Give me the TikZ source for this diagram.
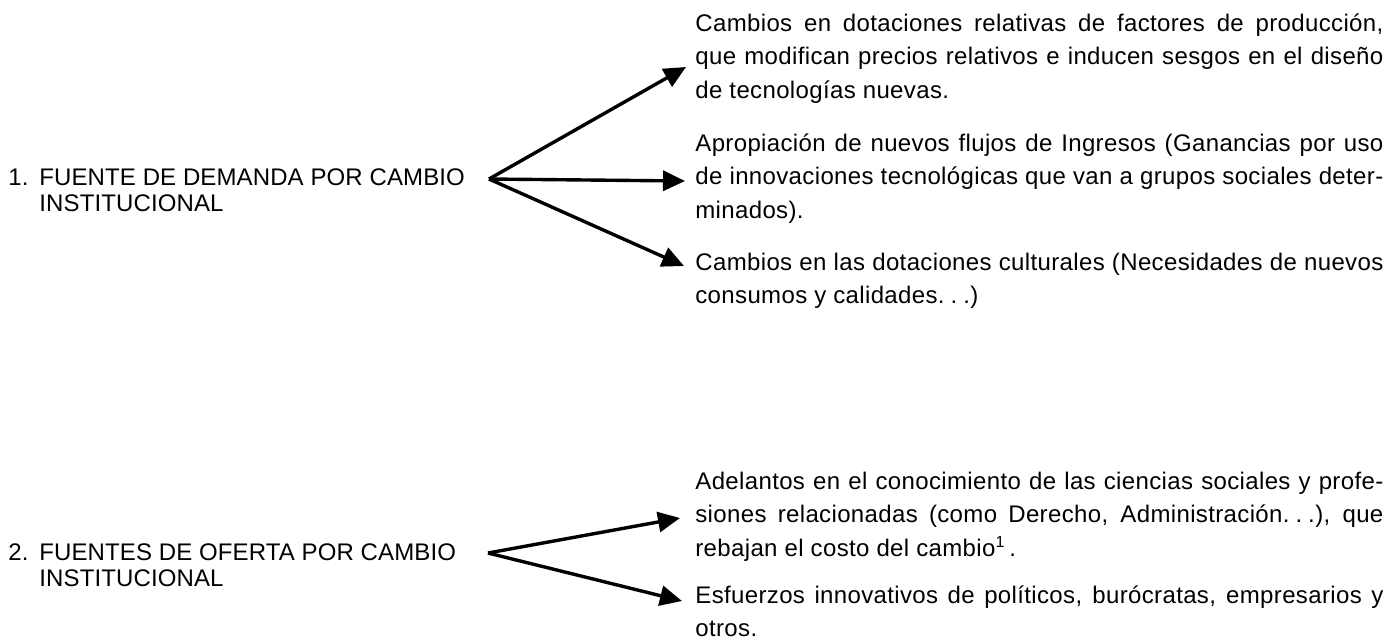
\documentclass[tikz,border=0pt]{standalone}
\usepackage{fontspec}
\setmainfont{Liberation Sans}
\newfontfamily\rfont[LetterSpace=1.5]{Liberation Sans}
\newfontfamily\lfont[LetterSpace=0.5]{Liberation Sans}
\usetikzlibrary{arrows.meta}
\newlength{\bw}
\setlength{\bw}{344pt}
\newcommand{\jl}[1]{\hbox to \bw{#1}}
\newcommand{\lastl}[1]{\hbox{#1}}
\newcommand{\spdots}{.\hspace{0.25em}.\hspace{0.25em}.}
\tikzset{
  rtext/.style={font=\rfont\fontsize{12}{16.9}\selectfont, inner sep=0pt, anchor=base west},
  ltext/.style={font=\lfont\fontsize{12}{13}\selectfont, inner sep=0pt, anchor=base west},
  arr/.style={line width=1.7pt, -{Triangle[length=11pt,width=10pt]}}
}
\begin{document}
\begin{tikzpicture}[x=0.5pt,y=-0.5pt]
\fill[white] (0,0) rectangle (1400,639);
\useasboundingbox (0,0) rectangle (1400,639);

% left labels
\node[ltext] (dem) at (8,185) {\vtop{\lastl{\makebox[15.5pt][l]{1.}FUENTE DE DEMANDA POR CAMBIO}\lastl{\hspace{15.5pt}INSTITUCIONAL}}};
\node[ltext] (ofe) at (8,560) {\vtop{\lastl{\makebox[15.5pt][l]{2.}FUENTES DE OFERTA POR CAMBIO}\lastl{\hspace{15.5pt}INSTITUCIONAL}}};

% right texts
\node[rtext] (b1) at (695,31) {\vtop{%
\jl{Cambios en dotaciones relativas de factores de producción,}
\jl{que modifican precios relativos e inducen sesgos en el diseño}
\lastl{de tecnologías nuevas.}}};
\node[rtext] (b2) at (695,151) {\vtop{%
\jl{Apropiación de nuevos flujos de Ingresos (Ganancias por uso}
\jl{de innovaciones tecnológicas que van a grupos sociales deter-}
\lastl{minados).}}};
\node[rtext] (b3) at (695,270) {\vtop{%
\jl{Cambios en las dotaciones culturales (Necesidades de nuevos}
\lastl{consumos y calidades\spdots)}}};
\node[rtext] (b4) at (695,489) {\vtop{%
\jl{Adelantos en el conocimiento de las ciencias sociales y profe-}
\jl{siones relacionadas (como Derecho, Administración\spdots), que}
\lastl{rebajan el costo del cambio\textsuperscript{1}\kern2pt.}}};
\node[rtext] (b5) at (695,603) {\vtop{%
\jl{Esfuerzos innovativos de políticos, burócratas, empresarios y}
\lastl{otros.}}};

% connector points
\coordinate (o1) at (489,179);
\coordinate (t11) at (686,67);
\coordinate (t12) at (685,181);
\coordinate (t13) at (684,266);
\coordinate (o2) at (488,553);
\coordinate (t21) at (680,518);
\coordinate (t22) at (682,601);

\draw[arr] (o1) -- (t11);
\draw[arr] (o1) -- (t12);
\draw[arr] (o1) -- (t13);
\draw[arr] (o2) -- (t21);
\draw[arr] (o2) -- (t22);
\end{tikzpicture}
\end{document}
